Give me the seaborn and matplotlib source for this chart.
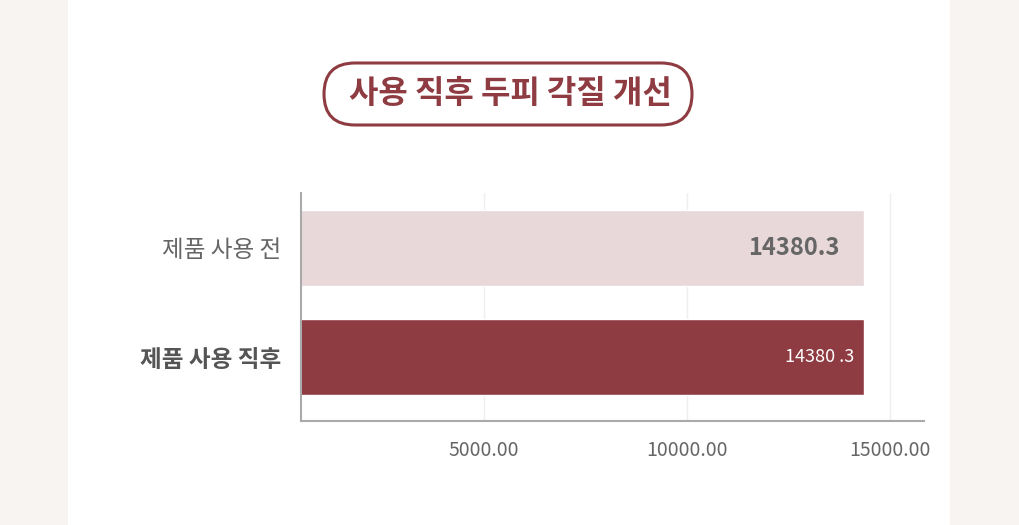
import seaborn as sns
import pandas as pd
import matplotlib.pyplot as plt
from matplotlib.patches import Rectangle, FancyBboxPatch

categories = ['제품 사용 전', '제품 사용 직후']
values = [14380.3, 14380.3]
value_labels = ['14380.3', '14380 .3']
bar_colors = ['#e8d8da', '#8e3b42']
ticks = [5000, 10000, 15000]
title = '사용 직후 두피 각질 개선'

sns.set_theme(style='white')
plt.rcParams['font.family'] = ['Noto Sans CJK KR', 'DejaVu Sans']

W, H = 1020, 525
fig = plt.figure(figsize=(10.2, 5.25), dpi=100)
fig.patch.set_facecolor('#f8f4f2')
# white panel
fig.add_artist(Rectangle((68 / W, 0), (950 - 68) / W, 1, transform=fig.transFigure,
                         facecolor='white', edgecolor='none', zorder=0))

# title in rounded box (pixel transform for round corners)
fig.add_artist(FancyBboxPatch((324, H - 125), 368, 62, transform=None,
                              boxstyle='round,pad=0,rounding_size=31',
                              facecolor='white', edgecolor='#8e3b42', linewidth=2.2))
fig.text(0.5, 1 - 94 / H, title, ha='center', va='center', fontsize=23, fontweight='bold',
         color='#8e3b42')

ax = fig.add_axes([301 / W, 1 - 421 / H, (924 - 301) / W, (421 - 193) / H])
ax.set_facecolor('none')
df = pd.DataFrame({'cat': categories, 'val': values})
sns.barplot(data=df, y='cat', x='val', hue='cat', palette=bar_colors, legend=False,
            orient='h', width=0.7, saturation=1, ax=ax, zorder=2)
ax.set_xlim(500, 15850)
ax.set_ylim(1.587, -0.505)
ax.set_xticks(ticks)
ax.set_xticklabels([f'{t:.2f}' for t in ticks], fontsize=14, color='#666666')
ax.tick_params(axis='x', length=0, pad=14)
ax.tick_params(axis='y', length=0, pad=14)
ax.set_xlabel('')
ax.set_ylabel('')
for t in ax.get_yticklabels():
    t.set_fontsize(17)
    t.set_color('#666666')
ax.get_yticklabels()[1].set_fontweight('bold')
ax.get_yticklabels()[1].set_color('#555555')
ax.grid(axis='x', color='#eeeeee', linewidth=1, zorder=0)
for s in ['top', 'right']:
    ax.spines[s].set_visible(False)
for s in ['left', 'bottom']:
    ax.spines[s].set_color('#aaaaaa')
    ax.spines[s].set_linewidth(1.5)

ax.text(values[0] - 600, 0, value_labels[0], ha='right', va='center', fontsize=17,
        fontweight='bold', color='#666666', zorder=3)
ax.text(values[1] - 250, 1, value_labels[1], ha='right', va='center', fontsize=13,
        color='white', zorder=3)

fig.savefig('out.png', dpi=100)
